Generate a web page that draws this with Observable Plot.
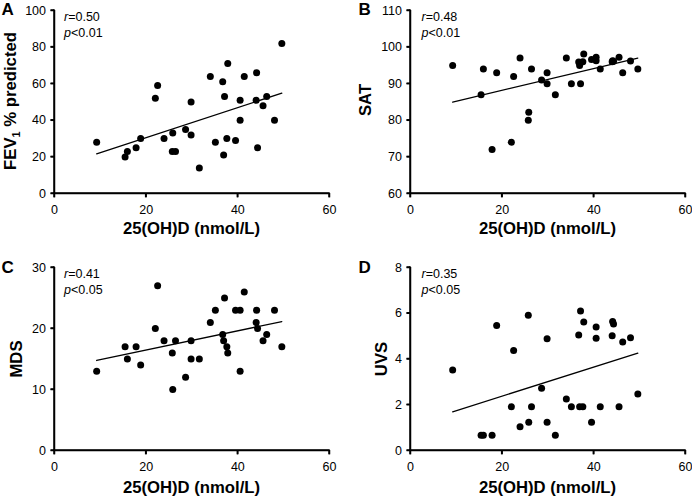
<!DOCTYPE html>
<html><head><meta charset="utf-8">
<script src="https://cdn.jsdelivr.net/npm/d3@7"></script>
<script src="https://cdn.jsdelivr.net/npm/@observablehq/plot@0.6"></script>
<style>
body{margin:0;background:#fff;}
#fig{display:flex;flex-wrap:wrap;width:692px;height:496px;background:#fff;font-family:"Liberation Sans",Arial,sans-serif;}
#fig > svg{flex:0 0 346px;}
</style></head><body><div id="fig"></div>
<script>
// Shared x: serum 25(OH)D (nmol/L) per subject
const vitD = [9.2, 15.4, 15.9, 17.8, 18.8, 22.0, 22.5, 23.9, 25.7, 25.8, 26.4, 28.6, 29.8, 29.8, 31.6, 34.0, 35.1, 36.7, 36.9, 37.1, 37.6, 37.8, 39.5, 40.5, 40.5, 41.4, 44.0, 44.1, 44.3, 45.5, 46.3, 48.0, 49.6];
// Panel A: FEV1 % predicted
const fev1 = [28, 20, 23, 25, 30, 52, 59, 30, 23, 33, 23, 35, 32, 50, 14, 64, 28, 61, 21, 53, 30, 71, 29, 51, 40, 64, 51, 66, 25, 48, 53, 40, 82];
// Panel B: SAT
const sat = [95, 87, 94, 72, 93, 74, 92, 97, 80, 82.2, 94, 91, 90, 93, 87, 97, 90, 95.9, 95, 90, 96, 98.1, 96.6, 97.2, 96.3, 94, 96, 96.3, 96.1, 97.2, 93, 96.2, 94];
// Panel C: MDS
const mds = [13, 17, 15, 17, 14, 20, 27, 18, 16, 10, 18, 12, 18, 15, 15, 21, 23, 19, 18, 25, 17, 16, 23, 23, 13, 26, 21, 23, 20, 18, 19, 23, 17];
// Panel D: UVS
const uvs = [3.52, 0.67, 0.67, 0.67, 5.46, 1.91, 4.37, 1.04, 5.91, 1.23, 1.91, 2.72, 4.88, 1.23, 0.67, 2.25, 1.91, 5.05, 1.91, 6.10, 1.91, 5.62, 1.23, 5.40, 4.91, 1.91, 5.02, 5.64, 5.53, 1.91, 4.74, 4.93, 2.47];

const xTicks = [0, 20, 40, 60];
const xLabel = "25(OH)D (nmol/L)";
const letters = ["A", "B", "C", "D"];
const yLabels = ["FEV1 % predicted", "SAT", "MDS", "UVS"];
const rValues = ["0.50", "0.48", "0.41", "0.35"];
const pValues = ["<0.01", "<0.01", "<0.05", "<0.05"];
const yDomains = [[0, 100], [60, 110], [0, 30], [0, 8]];
const yTicks = [[0, 20, 40, 60, 80, 100], [60, 70, 80, 90, 100, 110], [0, 10, 20, 30], [0, 2, 4, 6, 8]];
const series = [fev1, sat, mds, uvs];

// layout (not data)
const layout = [
  {ml: 54, mr: 17, mt: 10, mb: 55, letterX: 1.5,  letterY: 15, ylabX: 16,   ylabY: 101, xlabDy: 40.5},
  {ml: 64, mr: 7,  mt: 10, mb: 55, letterX: 12.5, letterY: 15, ylabX: 25,   ylabY: 100, xlabDy: 40.5},
  {ml: 54, mr: 17, mt: 19, mb: 46, letterX: 1.5,  letterY: 25, ylabX: 21.7, ylabY: 111, xlabDy: 42.5},
  {ml: 64, mr: 7,  mt: 19, mb: 46, letterX: 12.5, letterY: 25, ylabX: 40.7, ylabY: 111, xlabDy: 42.5}
];

const FONT = '"Liberation Sans", Arial, sans-serif';
const AXW = 1.5;
const HW = -AXW / 2;
const fig = document.getElementById("fig");

series.forEach((values, i) => {
  const L = layout[i];
  const data = vitD.map((x, j) => ({x, y: values[j]}));
  const W = 346, H = 248;
  const y0 = yDomains[i][0], y1 = yDomains[i][1];
  const yAxisLine = [{x1: 0, x2: 0, y1: y0, y2: y1}];
  const xAxisLine = [{x1: 0, x2: 60, y1: y0, y2: y0}];
  const xTickRects = xTicks.map(t => ({x1: t, x2: t, y1: y0, y2: y0}));
  const yTickRects = yTicks[i].map(t => ({x1: 0, x2: 0, y1: t, y2: t}));
  const rc = {x1: "x1", x2: "x2", y1: "y1", y2: "y2", fill: "#000"};
  const svg = Plot.plot({
    width: W, height: H,
    marginLeft: L.ml, marginRight: L.mr, marginTop: L.mt, marginBottom: L.mb,
    style: {fontFamily: FONT, fontSize: "12.5px"},
    x: {domain: [0, 60]},
    y: {domain: yDomains[i]},
    marks: [
      Plot.ruleX([0], {stroke: "#000", strokeWidth: AXW}),
      Plot.ruleY([y0], {stroke: "#000", strokeWidth: AXW}),
      Plot.axisX({ticks: xTicks, tickSize: 4.3, tickPadding: 7.5, label: null, strokeWidth: AXW}),
      Plot.axisY({ticks: yTicks[i], tickSize: 3.5, tickPadding: 5, label: null, strokeWidth: AXW}),
      // filled-rect axis lines and ticks
      Plot.rect(yAxisLine, {...rc, insetLeft: HW, insetRight: HW, insetTop: HW, insetBottom: HW}),
      Plot.rect(xAxisLine, {...rc, insetLeft: HW, insetRight: HW, insetTop: HW, insetBottom: HW}),
      Plot.rect(xTickRects, {...rc, insetLeft: HW, insetRight: HW, insetTop: 0, insetBottom: -4.3}),
      Plot.rect(yTickRects, {...rc, insetLeft: -3.5, insetRight: 0, insetTop: HW, insetBottom: HW}),
      Plot.linearRegressionY(data, {x: "x", y: "y", ci: 0, stroke: "#000", strokeWidth: 1.3}),
      Plot.dot(data, {x: "x", y: "y", r: 3.5, fill: "#000"})
    ]
  });
  fig.appendChild(svg);

  const s = d3.select(svg);
  const g = s.append("g").attr("font-family", FONT).attr("fill", "#000").attr("text-anchor", "start");
  // panel letter
  g.append("text").attr("x", L.letterX).attr("y", L.letterY)
    .attr("font-size", 17).attr("font-weight", "bold").text(letters[i]);
  // stats
  const sx = L.ml + (i % 2 ? 11.5 : 10);
  const t1 = g.append("text").attr("x", sx).attr("y", L.mt + 10.7).attr("font-size", 12.5);
  t1.append("tspan").attr("font-style", "italic").text("r");
  t1.append("tspan").text("=" + rValues[i]);
  const t2 = g.append("text").attr("x", sx).attr("y", L.mt + 26.8).attr("font-size", 12.5);
  t2.append("tspan").attr("font-style", "italic").text("p");
  t2.append("tspan").text(pValues[i]);
  // x label
  const plotCx = (L.ml + (W - L.mr)) / 2;
  g.append("text").attr("x", plotCx).attr("y", H - L.mb + L.xlabDy)
    .attr("text-anchor", "middle").attr("font-size", 16.7).attr("font-weight", "bold").text(xLabel);
  // y label (rotated)
  const yl = g.append("text")
    .attr("transform", `translate(${L.ylabX},${L.ylabY}) rotate(-90)`)
    .attr("text-anchor", "middle").attr("font-size", 16.7).attr("font-weight", "bold");
  const lab = yLabels[i];
  if (lab.startsWith("FEV1")) {
    yl.append("tspan").text("FEV");
    yl.append("tspan").attr("font-size", 11).attr("dy", 4).text("1");
    yl.append("tspan").attr("dy", -4).text(lab.slice(4));
  } else {
    yl.text(lab);
  }
});
</script>
</body></html>
